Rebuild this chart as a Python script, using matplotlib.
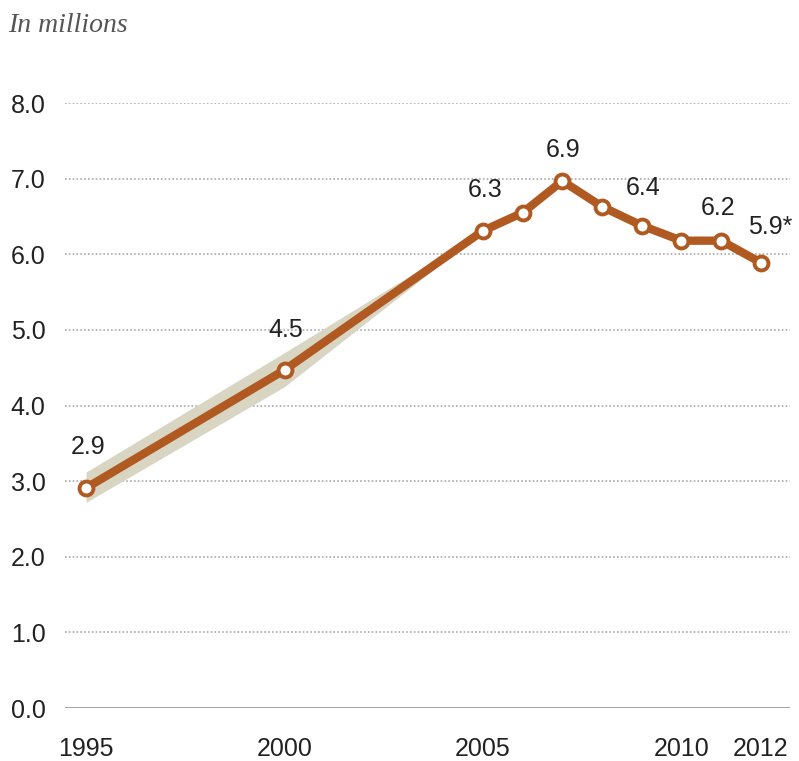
import matplotlib.pyplot as plt

# data (millions)
years = [1995, 2000, 2005, 2006, 2007, 2008, 2009, 2010, 2011, 2012]
values = [2.91, 4.47, 6.31, 6.55, 6.97, 6.63, 6.38, 6.18, 6.18, 5.89]

band_years = [1995, 2000, 2005]
band_low = [2.72, 4.25, 6.31]
band_high = [3.12, 4.70, 6.31]

label_years = [1995, 2000, 2005, 2007, 2009, 2011, 2012]
label_text = ["2.9", "4.5", "6.3", "6.9", "6.4", "6.2", "5.9*"]

xtick_years = [1995, 2000, 2005, 2010, 2012]
yticks = [0, 1, 2, 3, 4, 5, 6, 7, 8]

# label offsets in pixels (dx, dy) from each point
label_off = [(2, 41), (1, 40), (2, 41), (1, 31), (1, 38), (-3, 33), (9, 36)]

line_col = "#B05A22"
band_col = "#D8D5C3"
num_font = ["Liberation Sans", "DejaVu Sans"]

fig = plt.figure(figsize=(7.99, 7.61), dpi=100)
ax = fig.add_axes([0.0814, 0.0696, 0.907, 0.795])

ax.fill_between(band_years, band_low, band_high, color=band_col, lw=0, zorder=1)
ax.plot(years, values, color=line_col, lw=6, zorder=3,
        marker="o", markersize=10, markerfacecolor="white",
        markeredgecolor=line_col, markeredgewidth=2.8, solid_capstyle="round")

for yr, txt, (dx, dy) in zip(label_years, label_text, label_off):
    v = values[years.index(yr)]
    ax.annotate(txt, (yr, v), xytext=(dx * 0.72, dy * 0.72), textcoords="offset points",
                ha="center", va="center", fontsize=18, color="#222222",
                family=num_font)

ax.set_xlim(1994.47, 2012.73)
ax.set_ylim(0, 8)
ax.set_yticks(yticks)
ax.set_yticklabels([f"{t:.1f}" for t in yticks])
ax.set_xticks(xtick_years)
ax.set_xticklabels([str(y) for y in xtick_years])

for t in yticks[1:]:
    ax.axhline(t, color="#AAAAAA", lw=1.2, ls=(0, (1, 1.3)), zorder=0)
ax.axhline(0, color="#999999", lw=2, zorder=2)

for s in ax.spines.values():
    s.set_visible(False)
ax.tick_params(axis="both", length=0, labelsize=18, colors="#222222")
ax.tick_params(axis="y", pad=14)
ax.tick_params(axis="x", pad=21)
for lab in ax.get_xticklabels() + ax.get_yticklabels():
    lab.set_family(num_font)

fig.text(0.01, 0.966, "In millions", fontsize=20, style="italic",
         family=["Liberation Serif", "DejaVu Serif"], color="#555555",
         va="center", ha="left")

fig.savefig("out.png", dpi=100)
